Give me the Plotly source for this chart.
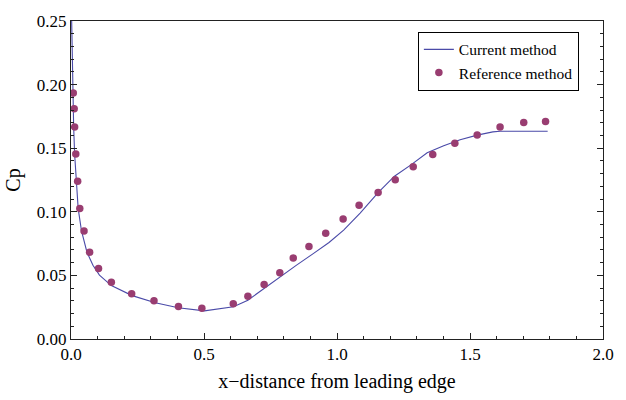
import plotly.graph_objects as go

# Current method (line)
line_x = [0.0025, 0.006, 0.010, 0.0136, 0.0197, 0.027, 0.0395, 0.060, 0.0825, 0.107,
          0.1516, 0.230, 0.317, 0.403, 0.5015, 0.611, 0.665, 0.711, 0.785, 0.8466,
          0.908, 0.970, 1.025, 1.087, 1.1546, 1.216, 1.278, 1.339, 1.401, 1.463,
          1.527, 1.586, 1.613, 1.792]
line_y = [0.250, 0.193, 0.1667, 0.1454, 0.124, 0.1025, 0.0849, 0.0682, 0.058, 0.0502,
          0.042, 0.0341, 0.0285, 0.0246, 0.0221, 0.0254, 0.0305, 0.0374, 0.049, 0.0579,
          0.0667, 0.0759, 0.0856, 0.099, 0.115, 0.128, 0.1369, 0.1464, 0.152, 0.1567,
          0.1603, 0.1628, 0.1633, 0.1633]

# Reference method (points)
ref_x = [0.0086, 0.012, 0.0136, 0.018, 0.025, 0.033, 0.049, 0.070, 0.1035, 0.1516,
         0.228, 0.312, 0.404, 0.492, 0.610, 0.665, 0.726, 0.785, 0.8355, 0.8946,
         0.9575, 1.023, 1.083, 1.1546, 1.219, 1.2865, 1.360, 1.443, 1.527, 1.613,
         1.702, 1.784]
ref_y = [0.1933, 0.181, 0.1667, 0.1454, 0.124, 0.1025, 0.0849, 0.0682, 0.0554, 0.0446,
         0.0356, 0.030, 0.0256, 0.0241, 0.0277, 0.0336, 0.0428, 0.052, 0.0636, 0.0728,
         0.0831, 0.0944, 0.1051, 0.1151, 0.1251, 0.1354, 0.1451, 0.1538, 0.1603, 0.1667,
         0.1703, 0.171]

FONT = "Liberation Serif, Times New Roman, serif"

fig = go.Figure()
fig.add_trace(go.Scatter(x=line_x, y=line_y, mode="lines", name="Current method",
                         line=dict(color="#4a4aa8", width=1.1)))
fig.add_trace(go.Scatter(x=ref_x, y=ref_y, mode="markers", name="Reference method",
                         marker=dict(color="#993d71", size=7.5, line=dict(width=0))))

fig.update_layout(
    width=626, height=400,
    margin=dict(l=71, r=14, t=17, b=58),
    paper_bgcolor="white", plot_bgcolor="white",
    font=dict(family=FONT, size=17, color="black"),
    showlegend=True,
    legend=dict(x=0.652, y=0.966, xanchor="left", yanchor="top",
                bordercolor="black", borderwidth=1, bgcolor="white",
                font=dict(family=FONT, size=15.5), tracegroupgap=0,
                itemwidth=30),
    xaxis=dict(range=[0, 2.0], dtick=0.5, tick0=0, tickformat=".1f",
               showgrid=False, zeroline=False,
               showline=True, linecolor="#222", linewidth=1, mirror=True,
               ticks="inside", ticklen=6, tickcolor="#222",
               minor=dict(dtick=0.1, ticks="inside", ticklen=3, tickcolor="#222"),
               title=dict(text="x\u2212distance from leading edge", font=dict(size=20), standoff=10)),
    yaxis=dict(range=[0, 0.25], dtick=0.05, tick0=0, tickformat=".2f",
               showgrid=False, zeroline=False,
               showline=True, linecolor="#222", linewidth=1, mirror="ticks",
               ticks="inside", ticklen=6, tickcolor="#222",
               minor=dict(dtick=0.01, ticks="inside", ticklen=3, tickcolor="#222"),
               title=dict(text="Cp", font=dict(size=20), standoff=10)),
)

fig.write_html("out.html")
